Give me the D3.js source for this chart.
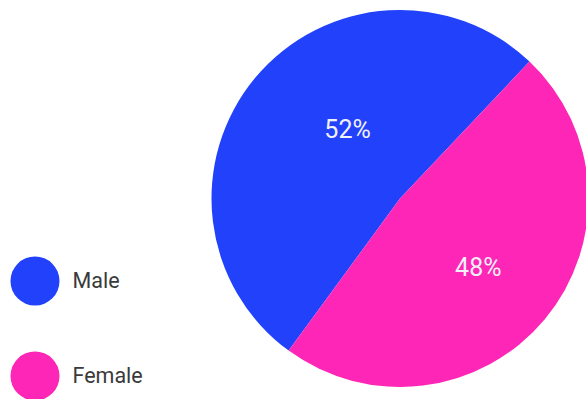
<!DOCTYPE html>
<html><head><meta charset="utf-8">
<script src="https://cdn.jsdelivr.net/npm/d3@7"></script>
<style>html,body{margin:0;padding:0;background:#fff;overflow:hidden}</style>
</head><body>
<svg id="c" width="586" height="399"></svg>
<script>
const categories = ["Male", "Female"];
const values = [52, 48];
const colors = ["#2142fa", "#fd26b6"];

const svg = d3.select("#c");
const cx = 400, cy = 198.5, R = 188.5;

const pie = d3.pie().sort(null)
  .startAngle(216.2 * Math.PI / 180)
  .endAngle((216.2 + 360) * Math.PI / 180);
const arcs = pie(values);
const arc = d3.arc().innerRadius(0).outerRadius(R);
const color = d3.scaleOrdinal().domain(categories).range(colors);

const g = svg.append("g").attr("transform", `translate(${cx},${cy})`);
g.selectAll("path").data(arcs).join("path")
  .attr("d", arc)
  .attr("fill", (d, i) => color(categories[i]));

// label placement: along slice bisector with small adjustments
const labelShift = [0.229, 0.024];
const labelR = [87, 104];
g.selectAll("text").data(arcs).join("text")
  .attr("transform", (d, i) => {
    const a = (d.startAngle + d.endAngle) / 2 + labelShift[i];
    const r = labelR[i];
    return `translate(${r * Math.sin(a)},${-r * Math.cos(a)})`;
  })
  .attr("text-anchor", "middle")
  .attr("dy", "0.36em")
  .attr("font-family", "Roboto, sans-serif")
  .attr("font-size", 25)
  .attr("fill", "#f2f0fa")
  .text(d => d.value + "%");

const legendY = d3.scalePoint().domain(categories).range([281, 376]);
const lg = svg.append("g");
lg.selectAll("circle").data(categories).join("circle")
  .attr("cx", 35).attr("cy", d => legendY(d)).attr("r", 24.5)
  .attr("fill", d => color(d));
lg.selectAll("text").data(categories).join("text")
  .attr("x", 72.5).attr("y", d => legendY(d) + 7)
  .attr("font-family", "Roboto, sans-serif")
  .attr("font-size", 21.5)
  .attr("fill", "#3a3a3a")
  .text(d => d);
</script>
</body></html>
